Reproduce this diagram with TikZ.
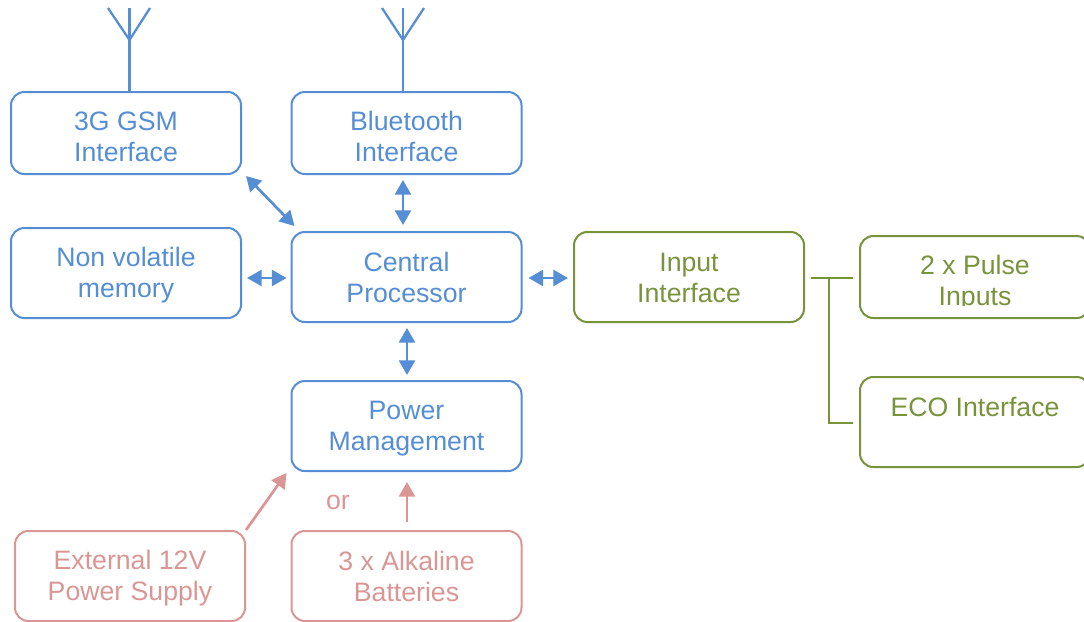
\documentclass[tikz,border=0pt]{standalone}
\usepackage{fontspec}
\setmainfont{Liberation Sans}
\usetikzlibrary{arrows.meta}
\definecolor{boxblue}{HTML}{558ED5}
\definecolor{boxgreen}{HTML}{77933C}
\definecolor{boxpink}{HTML}{D99694}
\newcommand{\Level}{\rule{0pt}{18pt}}
\newcommand{\Low}{\rule{0pt}{23.2pt}}
\begin{document}
\begin{tikzpicture}[x=0.75pt,y=-0.75pt]
	\tikzstyle{Box} = [rectangle, draw, rounded corners=10pt, line width=1.5pt, minimum width=172.5pt, inner sep=0pt, align=center, font=\fontsize{20}{23.2}\selectfont, execute at end node={\rule[-3.6pt]{0pt}{3.6pt}}]
	\tikzstyle{Blue} = [Box, draw=boxblue, text=boxblue]
	\tikzstyle{Green} = [Box, draw=boxgreen, text=boxgreen]
	\tikzstyle{Pink} = [Box, draw=boxpink, text=boxpink]
	\tikzstyle{Link} = [line width=2pt, {Triangle[length=11pt,width=12pt]}-{Triangle[length=11pt,width=12pt]}]
	\tikzstyle{Feed} = [line width=2pt, -{Triangle[length=11pt,width=12pt]}]
	\useasboundingbox (0,0) rectangle (1084,621);
	\clip (0,0) rectangle (1084,621);
	\node (gsm) at (126,133) [Blue, minimum height=61.5pt] {\Low 3G GSM\\Interface};
	\node (bt) at (406.5,133) [Blue, minimum height=61.5pt] {\Low Bluetooth\\Interface};
	\node (mem) at (126,273) [Blue, minimum height=67.5pt] {\Level Non volatile\\memory};
	\node (cpu) at (406.5,277) [Blue, minimum height=67.5pt] {\Level Central\\Processor};
	\node (pwr) at (406.5,426) [Blue, minimum height=67.5pt] {\Level Power\\Management};
	\node (input) at (689,277) [Green, minimum height=67.5pt] {\Level Input\\Interface};
	\node (pulse) at (975,277) [Green, minimum height=61.5pt] {};
	\node (eco) at (975,422) [Green, minimum height=67.5pt] {\Level ECO Interface\\~};
	\node (ext) at (130,576) [Pink, minimum height=67.5pt] {\Level External 12V\\Power Supply};
	\node (bat) at (406.5,576) [Pink, minimum height=67.5pt] {\Level 3 x Alkaline\\Batteries};
	\begin{scope}
		\clip (860,240) rectangle (1084,305);
		\node (pulsetext) at (975,283) [align=center, font=\fontsize{20}{23.2}\selectfont, text=boxgreen] {2 x Pulse\\Inputs};
	\end{scope}
	\node (or) at (338,502) [font=\fontsize{20}{23.2}\selectfont, text=boxpink] {or};
	% antennas
	\coordinate (gsmtop) at (129.5,8);
	\coordinate (gsmfork) at (129.5,40);
	\coordinate (bttop) at (403,8);
	\coordinate (btfork) at (403,40);
	\draw [boxblue, line width=1.7pt] ([shift={(3.5,0)}]gsm.north) to (gsmtop);
	\draw [boxblue, line width=1.7pt] (108,8) -- (gsmfork) -- (150,8);
	\draw [boxblue, line width=1.7pt] ([shift={(-3.5,0)}]bt.north) to (bttop);
	\draw [boxblue, line width=1.7pt] (382,8) -- (btfork) -- (424,8);
	% arrows
	\draw [Link, boxblue] ([shift={(4,1)}]gsm.south east) to ([shift={(4,-5)}]cpu.north west);
	\draw [Link, boxblue] ([shift={(-3.5,5)}]bt.south) to ([shift={(-3.5,-6)}]cpu.north);
	\draw [Link, boxblue] ([shift={(5,5)}]mem.east) to ([shift={(-4,1)}]cpu.west);
	\draw [Link, boxblue] ([shift={(6,1)}]cpu.east) to ([shift={(-5,1)}]input.west);
	\draw [Link, boxblue] ([shift={(0.5,5)}]cpu.south) to ([shift={(0.5,-5)}]pwr.north);
	\draw [Feed, boxpink] (ext.north east) to ([shift={(-4,1)}]pwr.south west);
	\draw [Feed, boxpink] ([shift={(0.5,-8)}]bat.north) to ([shift={(0.5,10)}]pwr.south);
	% input wiring
	\coordinate (branch) at (829,278);
	\draw [boxgreen, line width=1.7pt] ([shift={(6,1)}]input.east) to ([shift={(-6,1)}]pulse.west);
	\draw [boxgreen, line width=1.7pt] (branch) |- ([shift={(-6,1)}]eco.west);
\end{tikzpicture}
\end{document}
